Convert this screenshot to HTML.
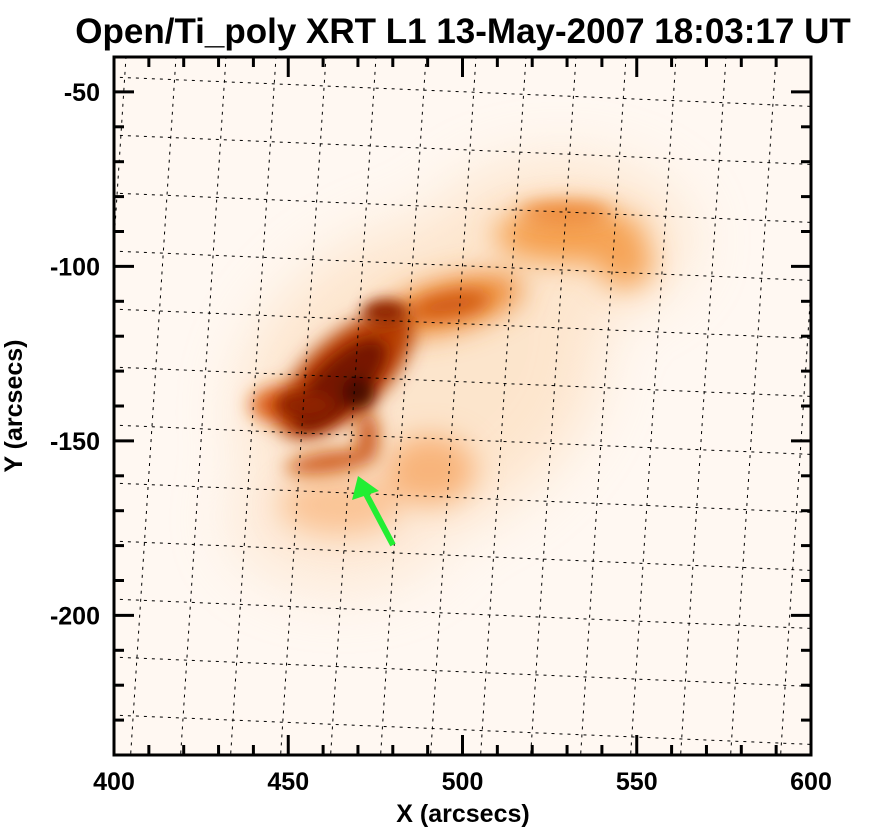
<!DOCTYPE html>
<html><head><meta charset="utf-8"><style>
body{margin:0;background:#fff;width:873px;height:834px;overflow:hidden;font-family:"Liberation Sans",sans-serif}
</style></head><body>
<svg width="873" height="834">
<defs>
<filter id="b8" x="-50%" y="-50%" width="200%" height="200%"><feGaussianBlur stdDeviation="9"/></filter>
<filter id="b14" x="-50%" y="-50%" width="200%" height="200%"><feGaussianBlur stdDeviation="14"/></filter>
<filter id="b30" x="-50%" y="-50%" width="200%" height="200%"><feGaussianBlur stdDeviation="30"/></filter>
<filter id="b4" x="-50%" y="-50%" width="200%" height="200%"><feGaussianBlur stdDeviation="7"/></filter>
<clipPath id="pc"><rect x="114" y="57" width="697" height="698"/></clipPath>
</defs>
<text x="463" y="43" text-anchor="middle" font-size="35" font-weight="bold">Open/Ti_poly XRT L1 13-May-2007 18:03:17 UT</text>
<g clip-path="url(#pc)">
<rect x="114" y="57" width="697" height="698" fill="#fff8f2"/>
<g filter="url(#b30)" opacity="0.5">
<ellipse cx="420" cy="380" rx="190" ry="150" fill="#fbd3a8" transform="rotate(-30 420 380)"/>
<ellipse cx="560" cy="240" rx="130" ry="80" fill="#fbd3a8"/>
<ellipse cx="340" cy="520" rx="110" ry="70" fill="#fbd9b8"/>
</g>
<g filter="url(#b14)">
<ellipse cx="570" cy="235" rx="75" ry="28" fill="#f5a050"/>
<ellipse cx="625" cy="262" rx="28" ry="26" fill="#f5a458"/>
<ellipse cx="450" cy="305" rx="75" ry="25" fill="#ee8a36" transform="rotate(-15 450 305)"/>
<ellipse cx="430" cy="470" rx="45" ry="35" fill="#f8b47a"/>
<ellipse cx="340" cy="505" rx="60" ry="30" fill="#fac496"/>
</g>
<g filter="url(#b8)">
<ellipse cx="300" cy="405" rx="50" ry="22" fill="#dc5e12"/>
<ellipse cx="345" cy="375" rx="85" ry="38" fill="#b63c06" transform="rotate(-42 345 375)"/>
<ellipse cx="330" cy="462" rx="45" ry="10" fill="#cc5210" transform="rotate(-8 330 462)"/>
<ellipse cx="368" cy="437" rx="10" ry="26" fill="#c8500e"/>
<ellipse cx="450" cy="305" rx="40" ry="12" fill="#d05a14" transform="rotate(-10 450 305)"/>
<ellipse cx="565" cy="213" rx="45" ry="10" fill="#ec8634"/>
</g>
<g filter="url(#b4)">
<ellipse cx="340" cy="385" rx="60" ry="24" fill="#761400" transform="rotate(-45 340 385)"/>
<ellipse cx="305" cy="405" rx="28" ry="13" fill="#8e2204"/>
<ellipse cx="385" cy="312" rx="22" ry="12" fill="#902606"/>
<ellipse cx="358" cy="392" rx="16" ry="16" fill="#4a0800"/>
</g>
<g id="grid" stroke="#000" stroke-width="1" stroke-dasharray="3,5" fill="none"></g>
</g>
<rect x="114" y="57" width="697" height="698" fill="none" stroke="#000" stroke-width="3"/>
<g id="axes"></g>
<line x1="393" y1="545" x2="366" y2="494" stroke="#22ee33" stroke-width="6"/>
<polygon points="358,476 352,500 379,491" fill="#22ee33"/>
<text x="463" y="822" text-anchor="middle" font-size="25" font-weight="bold">X (arcsecs)</text>
<text x="22" y="406" text-anchor="middle" font-size="25" font-weight="bold" transform="rotate(-90 22 406)">Y (arcsecs)</text>
</svg>
<script>
const xTicks=[400,450,500,550,600];
const yTicks=[-50,-100,-150,-200];
const ns="http://www.w3.org/2000/svg";
const X0=114,X1=811,Y0=57,Y1=755;
const xs=v=>X0+(v-400)*(X1-X0)/200;
const ys=v=>Y0+(-40-v)*(Y1-Y0)/200;
const ax=document.getElementById('axes');
function ln(p,x1,y1,x2,y2,w){const l=document.createElementNS(ns,'line');l.setAttribute('x1',x1);l.setAttribute('y1',y1);l.setAttribute('x2',x2);l.setAttribute('y2',y2);l.setAttribute('stroke','#000');l.setAttribute('stroke-width',w);p.appendChild(l);return l;}
for(let v=400;v<=600;v+=10){const x=xs(v),L=(v%50===0)?20:10;
const a=ln(ax,x,Y1,x,Y1-L,3);
const b=ln(ax,x,Y0,x,Y0+L,3);}
for(let v=-40;v>=-240;v-=10){const y=ys(v),L=(v%50===0)?20:10;
const a=ln(ax,X0,y,X0+L,y,3);
const b=ln(ax,X1,y,X1-L,y,3);}
xTicks.forEach(v=>{const t=document.createElementNS(ns,'text');t.setAttribute('x',xs(v));t.setAttribute('y',790);t.setAttribute('text-anchor','middle');t.setAttribute('font-size','25');t.setAttribute('font-weight','bold');t.textContent=v;


ax.appendChild(t);});
yTicks.forEach(v=>{const t=document.createElementNS(ns,'text');t.setAttribute('x',100);t.setAttribute('y',ys(v)+9);t.setAttribute('text-anchor','end');t.setAttribute('font-size','25');t.setAttribute('font-weight','bold');t.textContent=v;


ax.appendChild(t);});
const g=document.getElementById('grid');
for(let k=-4;k<12;k++){const y=198+k*58;const l=ln(g,0,y-230*0.042,873,y+(873-230)*0.042,1);l.setAttribute('stroke-dasharray','3,5');

}
for(let k=-5;k<14;k++){const x=268+k*50;const l=ln(g,x+180*0.065,0,x-(834-180)*0.065,834,1);l.setAttribute('stroke-dasharray','3,5');

}
</script>
</body></html>
